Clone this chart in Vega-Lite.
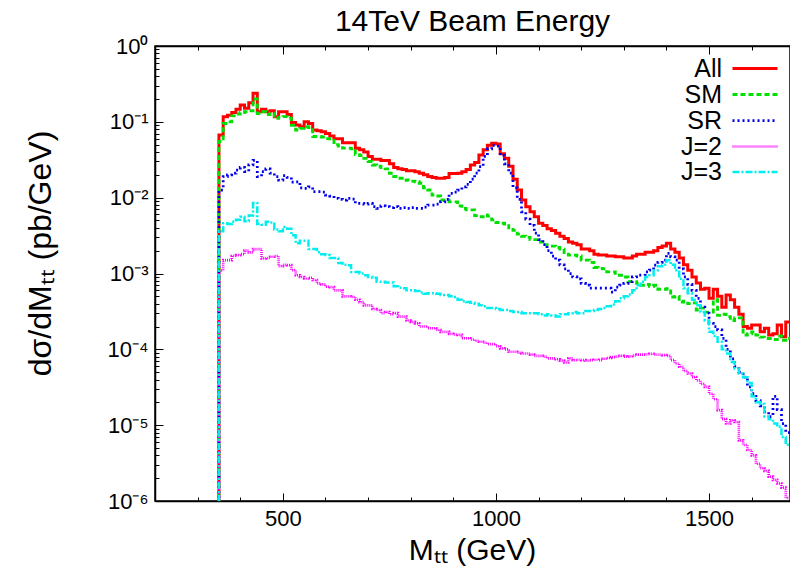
{
  "$schema": "https://vega.github.io/schema/vega-lite/v6.json",
  "width": 635,
  "height": 455,
  "autosize": {"type": "none"},
  "padding": {"left": 155, "top": 46, "right": 0, "bottom": 72},
  "background": "white",
  "config": {
    "view": {"stroke": "black", "strokeWidth": 1.5},
    "font": "Liberation Sans"
  },
  "title": {"text": "14TeV Beam Energy", "fontSize": 30, "fontWeight": "normal", "font": "Liberation Sans", "color": "black", "offset": -2, "anchor": "middle"},
  "data": {"values": [
    {"m":340,"All":5e-7,"SM":5e-7,"SR":5e-7,"J=2":5e-7,"J=3":5e-7},
    {"m":350,"All":0.067,"SM":0.055,"SR":0.0126,"J=2":0.0011,"J=3":0.0036},
    {"m":360,"All":0.117,"SM":0.095,"SR":0.019,"J=2":0.0015,"J=3":0.0046},
    {"m":370,"All":0.122,"SM":0.1,"SR":0.02,"J=2":0.0015,"J=3":0.0045},
    {"m":380,"All":0.133,"SM":0.12,"SR":0.021,"J=2":0.0017,"J=3":0.0048},
    {"m":390,"All":0.146,"SM":0.127,"SR":0.023,"J=2":0.00175,"J=3":0.0051},
    {"m":400,"All":0.167,"SM":0.133,"SR":0.025,"J=2":0.0018,"J=3":0.0056},
    {"m":410,"All":0.151,"SM":0.136,"SR":0.022,"J=2":0.002,"J=3":0.0049},
    {"m":420,"All":0.178,"SM":0.14,"SR":0.027,"J=2":0.0019,"J=3":0.0058},
    {"m":430,"All":0.238,"SM":0.2,"SR":0.031,"J=2":0.0021,"J=3":0.0085},
    {"m":440,"All":0.136,"SM":0.129,"SR":0.019,"J=2":0.0021,"J=3":0.0045},
    {"m":450,"All":0.146,"SM":0.136,"SR":0.022,"J=2":0.00158,"J=3":0.0044},
    {"m":460,"All":0.136,"SM":0.125,"SR":0.024,"J=2":0.0016,"J=3":0.0048},
    {"m":470,"All":0.14,"SM":0.13,"SR":0.021,"J=2":0.00166,"J=3":0.0047},
    {"m":480,"All":0.117,"SM":0.111,"SR":0.019,"J=2":0.0017,"J=3":0.0038},
    {"m":490,"All":0.136,"SM":0.115,"SR":0.017,"J=2":0.00125,"J=3":0.0036},
    {"m":500,"All":0.136,"SM":0.117,"SR":0.0195,"J=2":0.0013,"J=3":0.0041},
    {"m":510,"All":0.125,"SM":0.112,"SR":0.0185,"J=2":0.00129,"J=3":0.0039},
    {"m":520,"All":0.098,"SM":0.09,"SR":0.016,"J=2":0.00111,"J=3":0.0032},
    {"m":530,"All":0.091,"SM":0.078,"SR":0.0162,"J=2":0.00095,"J=3":0.0025},
    {"m":540,"All":0.086,"SM":0.082,"SR":0.0135,"J=2":0.0009,"J=3":0.0027},
    {"m":550,"All":0.1,"SM":0.086,"SR":0.0133,"J=2":0.00086,"J=3":0.0027},
    {"m":560,"All":0.095,"SM":0.084,"SR":0.0139,"J=2":0.00088,"J=3":0.0021},
    {"m":570,"All":0.078,"SM":0.064,"SR":0.012,"J=2":0.00082,"J=3":0.0021},
    {"m":580,"All":0.076,"SM":0.064,"SR":0.012,"J=2":0.00074,"J=3":0.0019},
    {"m":590,"All":0.074,"SM":0.063,"SR":0.0118,"J=2":0.00072,"J=3":0.0018},
    {"m":600,"All":0.07,"SM":0.06,"SR":0.0108,"J=2":0.00067,"J=3":0.00175},
    {"m":610,"All":0.065,"SM":0.057,"SR":0.0105,"J=2":0.00066,"J=3":0.0016},
    {"m":620,"All":0.06,"SM":0.05,"SR":0.0098,"J=2":0.0006,"J=3":0.0016},
    {"m":630,"All":0.06,"SM":0.048,"SR":0.0095,"J=2":0.0006,"J=3":0.00138},
    {"m":640,"All":0.053,"SM":0.045,"SR":0.0093,"J=2":0.0005,"J=3":0.0013},
    {"m":650,"All":0.053,"SM":0.045,"SR":0.0098,"J=2":0.0005,"J=3":0.00128},
    {"m":660,"All":0.053,"SM":0.044,"SR":0.0096,"J=2":0.00049,"J=3":0.00105},
    {"m":670,"All":0.045,"SM":0.037,"SR":0.0084,"J=2":0.00045,"J=3":0.00105},
    {"m":680,"All":0.043,"SM":0.036,"SR":0.0084,"J=2":0.00042,"J=3":0.001},
    {"m":690,"All":0.04,"SM":0.033,"SR":0.0082,"J=2":0.00038,"J=3":0.00095},
    {"m":700,"All":0.035,"SM":0.03,"SR":0.0084,"J=2":0.00038,"J=3":0.0009},
    {"m":710,"All":0.032,"SM":0.027,"SR":0.0076,"J=2":0.00034,"J=3":0.00088},
    {"m":720,"All":0.032,"SM":0.026,"SR":0.0072,"J=2":0.00033,"J=3":0.00078},
    {"m":730,"All":0.031,"SM":0.025,"SR":0.0078,"J=2":0.0003,"J=3":0.00078},
    {"m":740,"All":0.031,"SM":0.024,"SR":0.0076,"J=2":0.00031,"J=3":0.00076},
    {"m":750,"All":0.028,"SM":0.021,"SR":0.0074,"J=2":0.00029,"J=3":0.00076},
    {"m":760,"All":0.025,"SM":0.019,"SR":0.0076,"J=2":0.0003,"J=3":0.00068},
    {"m":770,"All":0.024,"SM":0.018,"SR":0.0072,"J=2":0.00027,"J=3":0.00065},
    {"m":780,"All":0.0235,"SM":0.017,"SR":0.0074,"J=2":0.00027,"J=3":0.00064},
    {"m":790,"All":0.0226,"SM":0.0171,"SR":0.0072,"J=2":0.00024,"J=3":0.0006},
    {"m":800,"All":0.0226,"SM":0.0165,"SR":0.0074,"J=2":0.00023,"J=3":0.0006},
    {"m":810,"All":0.022,"SM":0.0162,"SR":0.0072,"J=2":0.00022,"J=3":0.00059},
    {"m":820,"All":0.021,"SM":0.0155,"SR":0.0072,"J=2":0.0002,"J=3":0.00056},
    {"m":830,"All":0.02,"SM":0.0135,"SR":0.0075,"J=2":0.0002,"J=3":0.00054},
    {"m":840,"All":0.019,"SM":0.0126,"SR":0.008,"J=2":0.00019,"J=3":0.00055},
    {"m":850,"All":0.0185,"SM":0.0108,"SR":0.008,"J=2":0.00019,"J=3":0.00055},
    {"m":860,"All":0.018,"SM":0.0105,"SR":0.0082,"J=2":0.00018,"J=3":0.00054},
    {"m":870,"All":0.018,"SM":0.0093,"SR":0.0088,"J=2":0.00017,"J=3":0.00052},
    {"m":880,"All":0.0185,"SM":0.0093,"SR":0.0095,"J=2":0.00017,"J=3":0.00052},
    {"m":890,"All":0.0209,"SM":0.0088,"SR":0.0114,"J=2":0.00016,"J=3":0.0005},
    {"m":900,"All":0.0209,"SM":0.0088,"SR":0.0118,"J=2":0.000157,"J=3":0.00049},
    {"m":910,"All":0.021,"SM":0.0078,"SR":0.0126,"J=2":0.000155,"J=3":0.00045},
    {"m":920,"All":0.022,"SM":0.0072,"SR":0.0139,"J=2":0.00014,"J=3":0.00043},
    {"m":930,"All":0.0236,"SM":0.0069,"SR":0.015,"J=2":0.00014,"J=3":0.00042},
    {"m":940,"All":0.027,"SM":0.0069,"SR":0.0175,"J=2":0.000135,"J=3":0.00041},
    {"m":950,"All":0.029,"SM":0.0058,"SR":0.021,"J=2":0.00013,"J=3":0.0004},
    {"m":960,"All":0.0365,"SM":0.0056,"SR":0.0256,"J=2":0.000126,"J=3":0.00038},
    {"m":970,"All":0.043,"SM":0.0059,"SR":0.035,"J=2":0.000122,"J=3":0.00037},
    {"m":980,"All":0.049,"SM":0.0057,"SR":0.044,"J=2":0.000117,"J=3":0.00035},
    {"m":990,"All":0.052,"SM":0.0051,"SR":0.049,"J=2":0.000117,"J=3":0.00035},
    {"m":1000,"All":0.051,"SM":0.0047,"SR":0.048,"J=2":0.00011,"J=3":0.00034},
    {"m":1010,"All":0.038,"SM":0.0046,"SR":0.036,"J=2":0.000103,"J=3":0.00033},
    {"m":1020,"All":0.033,"SM":0.0045,"SR":0.028,"J=2":0.0001,"J=3":0.00033},
    {"m":1030,"All":0.026,"SM":0.0038,"SR":0.021,"J=2":0.000093,"J=3":0.00032},
    {"m":1040,"All":0.0175,"SM":0.0037,"SR":0.0135,"J=2":0.000093,"J=3":0.00031},
    {"m":1050,"All":0.0126,"SM":0.0033,"SR":0.0095,"J=2":0.00009,"J=3":0.00031},
    {"m":1060,"All":0.0093,"SM":0.0031,"SR":0.0065,"J=2":0.000088,"J=3":0.0003},
    {"m":1070,"All":0.0076,"SM":0.003,"SR":0.0052,"J=2":0.000088,"J=3":0.0003},
    {"m":1080,"All":0.0065,"SM":0.0028,"SR":0.0043,"J=2":0.000085,"J=3":0.0003},
    {"m":1090,"All":0.0056,"SM":0.0028,"SR":0.0034,"J=2":0.000082,"J=3":0.0003},
    {"m":1100,"All":0.0046,"SM":0.0026,"SR":0.0028,"J=2":0.000082,"J=3":0.00029},
    {"m":1110,"All":0.0043,"SM":0.0024,"SR":0.0024,"J=2":0.00008,"J=3":0.00028},
    {"m":1120,"All":0.0039,"SM":0.0023,"SR":0.002,"J=2":0.000076,"J=3":0.00029},
    {"m":1130,"All":0.0037,"SM":0.0023,"SR":0.0017,"J=2":0.000076,"J=3":0.00028},
    {"m":1140,"All":0.0034,"SM":0.0022,"SR":0.0015,"J=2":0.000074,"J=3":0.00027},
    {"m":1150,"All":0.0031,"SM":0.0021,"SR":0.0013,"J=2":0.000071,"J=3":0.00029},
    {"m":1160,"All":0.0029,"SM":0.0018,"SR":0.00115,"J=2":0.000067,"J=3":0.00029},
    {"m":1170,"All":0.0026,"SM":0.00175,"SR":0.001,"J=2":0.000076,"J=3":0.0003},
    {"m":1180,"All":0.0025,"SM":0.00175,"SR":0.0009,"J=2":0.000072,"J=3":0.00031},
    {"m":1190,"All":0.0024,"SM":0.0017,"SR":0.00085,"J=2":0.000073,"J=3":0.0003},
    {"m":1200,"All":0.0021,"SM":0.0015,"SR":0.00074,"J=2":0.000072,"J=3":0.0003},
    {"m":1210,"All":0.0021,"SM":0.0015,"SR":0.0007,"J=2":0.000071,"J=3":0.00032},
    {"m":1220,"All":0.002,"SM":0.0014,"SR":0.00064,"J=2":0.000072,"J=3":0.00032},
    {"m":1230,"All":0.0018,"SM":0.0012,"SR":0.00064,"J=2":0.000073,"J=3":0.00033},
    {"m":1240,"All":0.00175,"SM":0.00117,"SR":0.00064,"J=2":0.000072,"J=3":0.00034},
    {"m":1250,"All":0.00175,"SM":0.00115,"SR":0.00064,"J=2":0.000075,"J=3":0.00035},
    {"m":1260,"All":0.0017,"SM":0.00105,"SR":0.00064,"J=2":0.000077,"J=3":0.00037},
    {"m":1270,"All":0.0017,"SM":0.00105,"SR":0.00057,"J=2":0.000079,"J=3":0.00039},
    {"m":1280,"All":0.00166,"SM":0.00095,"SR":0.00066,"J=2":0.00008,"J=3":0.00043},
    {"m":1290,"All":0.00166,"SM":0.00095,"SR":0.0007,"J=2":0.000082,"J=3":0.00047},
    {"m":1300,"All":0.0016,"SM":0.0009,"SR":0.00074,"J=2":0.00008,"J=3":0.0005},
    {"m":1310,"All":0.0016,"SM":0.00078,"SR":0.00078,"J=2":0.000081,"J=3":0.00053},
    {"m":1320,"All":0.0017,"SM":0.00078,"SR":0.0009,"J=2":0.000083,"J=3":0.0006},
    {"m":1330,"All":0.0018,"SM":0.00074,"SR":0.00095,"J=2":0.000085,"J=3":0.0007},
    {"m":1340,"All":0.0018,"SM":0.0007,"SR":0.00095,"J=2":0.000085,"J=3":0.00078},
    {"m":1350,"All":0.0019,"SM":0.00072,"SR":0.00105,"J=2":0.000086,"J=3":0.0009},
    {"m":1360,"All":0.0019,"SM":0.00068,"SR":0.00111,"J=2":0.000087,"J=3":0.00095},
    {"m":1370,"All":0.002,"SM":0.0007,"SR":0.00129,"J=2":0.000085,"J=3":0.0011},
    {"m":1380,"All":0.0022,"SM":0.00062,"SR":0.0014,"J=2":0.000085,"J=3":0.00125},
    {"m":1390,"All":0.0023,"SM":0.00062,"SR":0.0015,"J=2":0.000084,"J=3":0.0013},
    {"m":1400,"All":0.0025,"SM":0.00063,"SR":0.00184,"J=2":0.000082,"J=3":0.0015},
    {"m":1410,"All":0.0021,"SM":0.00049,"SR":0.00166,"J=2":0.000072,"J=3":0.0013},
    {"m":1420,"All":0.0019,"SM":0.0005,"SR":0.0015,"J=2":0.000065,"J=3":0.0011},
    {"m":1430,"All":0.0016,"SM":0.00042,"SR":0.00115,"J=2":0.000059,"J=3":0.00085},
    {"m":1440,"All":0.0013,"SM":0.00043,"SR":0.0009,"J=2":0.000052,"J=3":0.00064},
    {"m":1450,"All":0.0011,"SM":0.0004,"SR":0.00072,"J=2":0.000048,"J=3":0.00055},
    {"m":1460,"All":0.0009,"SM":0.00041,"SR":0.0006,"J=2":0.000043,"J=3":0.00045},
    {"m":1470,"All":0.00075,"SM":0.00033,"SR":0.00047,"J=2":0.000039,"J=3":0.00038},
    {"m":1480,"All":0.00062,"SM":0.00035,"SR":0.00036,"J=2":0.000035,"J=3":0.00031},
    {"m":1490,"All":0.00064,"SM":0.00031,"SR":0.0003,"J=2":0.000032,"J=3":0.00024},
    {"m":1500,"All":0.00047,"SM":0.00031,"SR":0.00022,"J=2":0.000026,"J=3":0.00017},
    {"m":1510,"All":0.00062,"SM":0.00045,"SR":0.0002,"J=2":0.000022,"J=3":0.00015},
    {"m":1520,"All":0.0005,"SM":0.00028,"SR":0.00018,"J=2":0.0000158,"J=3":0.000126},
    {"m":1530,"All":0.00036,"SM":0.00029,"SR":0.000139,"J=2":0.000012,"J=3":0.0001},
    {"m":1540,"All":0.00052,"SM":0.00027,"SR":0.0001,"J=2":0.0000105,"J=3":0.000088},
    {"m":1550,"All":0.00045,"SM":0.00024,"SR":0.000075,"J=2":0.0000116,"J=3":0.000068},
    {"m":1560,"All":0.00036,"SM":0.00026,"SR":0.000059,"J=2":0.000011,"J=3":0.000056},
    {"m":1570,"All":0.00029,"SM":0.00026,"SR":0.00005,"J=2":0.0000063,"J=3":0.000048},
    {"m":1580,"All":0.0002,"SM":0.000154,"SR":0.000043,"J=2":0.0000055,"J=3":0.000043},
    {"m":1590,"All":0.00019,"SM":0.00016,"SR":0.000032,"J=2":0.0000047,"J=3":0.000036},
    {"m":1600,"All":0.00021,"SM":0.00017,"SR":0.000026,"J=2":0.000004,"J=3":0.000024},
    {"m":1610,"All":0.00021,"SM":0.000154,"SR":0.000021,"J=2":0.0000031,"J=3":0.00002},
    {"m":1620,"All":0.00017,"SM":0.000145,"SR":0.000018,"J=2":0.0000027,"J=3":0.000019},
    {"m":1630,"All":0.00019,"SM":0.000139,"SR":0.000015,"J=2":0.0000025,"J=3":0.000013},
    {"m":1640,"All":0.000155,"SM":0.000139,"SR":0.000013,"J=2":0.0000021,"J=3":0.000012},
    {"m":1650,"All":0.00016,"SM":0.000135,"SR":0.000024,"J=2":0.0000019,"J=3":0.0000105},
    {"m":1660,"All":0.00021,"SM":0.00015,"SR":0.000016,"J=2":0.0000017,"J=3":0.0000095},
    {"m":1670,"All":0.000146,"SM":0.000132,"SR":0.0000105,"J=2":0.0000015,"J=3":0.000007},
    {"m":1680,"All":0.00023,"SM":0.00014,"SR":0.000008,"J=2":0.0000011,"J=3":0.0000055},
    {"m":1690,"All":0.00023,"SM":0.00014,"SR":0.000008,"J=2":0.0000011,"J=3":0.0000055}
  ]},
  "transform": [{"fold": ["All", "SM", "SR", "J=2", "J=3"], "as": ["series", "value"]}],
  "resolve": {"axis": {"x": "independent"}},
  "layer": [
    {
      "mark": {"type": "line", "interpolate": "step-after", "clip": true},
      "encoding": {
        "x": {
          "field": "m", "type": "quantitative",
          "scale": {"domain": [200, 1690], "nice": false, "zero": false},
          "axis": {
            "orient": "bottom",
            "title": "Mₜₜ (GeV)",
            "titleFont": "Liberation Sans", "titleFontSize": 30, "titleFontWeight": "normal", "titleColor": "black",
            "titleX": 317, "titleY": 49, "titleBaseline": "middle", "titleAlign": "center",
            "values": [300, 400, 500, 600, 700, 800, 900, 1000, 1100, 1200, 1300, 1400, 1500, 1600],
            "labelExpr": "datum.value % 500 == 0 ? '' + datum.value : ''",
            "labelFont": "Liberation Sans", "labelFontSize": 22, "labelColor": "black",
            "labelOverlap": false, "labelFlush": false, "labelBaseline": "top",
            "tickSize": {"condition": {"test": "datum.value % 500 == 0", "value": -8}, "value": -4},
            "labelPadding": 15,
            "tickColor": "black", "tickWidth": 1,
            "domainColor": "black", "domainWidth": 1.5,
            "grid": false
          }
        },
        "y": {
          "field": "value", "type": "quantitative",
          "scale": {"type": "log", "domain": [0.000001, 1], "nice": false},
          "axis": {
            "title": "dσ/dMₜₜ (pb/GeV)",
            "titleFont": "Liberation Sans", "titleFontSize": 32, "titleFontWeight": "normal", "titleColor": "black",
            "titleX": -115, "titleY": 207, "titleBaseline": "middle", "titleAlign": "center", "titleAngle": 270,
            "values": [0.000001,0.000002,0.000003,0.000004,0.000005,0.000006,0.000007,0.000008,0.000009,
                       0.00001,0.00002,0.00003,0.00004,0.00005,0.00006,0.00007,0.00008,0.00009,
                       0.0001,0.0002,0.0003,0.0004,0.0005,0.0006,0.0007,0.0008,0.0009,
                       0.001,0.002,0.003,0.004,0.005,0.006,0.007,0.008,0.009,
                       0.01,0.02,0.03,0.04,0.05,0.06,0.07,0.08,0.09,
                       0.1,0.2,0.3,0.4,0.5,0.6,0.7,0.8,0.9,1],
            "labelExpr": "abs(log(datum.value)/LN10 - round(log(datum.value)/LN10)) < 0.001 ? (round(log(datum.value)/LN10) == 0 ? '10⁰' : '10⁻' + ['', '¹', '²', '³', '⁴', '⁵', '⁶'][-round(log(datum.value)/LN10)]) : ''",
            "labelFont": "Liberation Sans", "labelFontSize": 22, "labelColor": "black",
            "labelOverlap": false, "labelFlush": false,
            "tickSize": {"condition": {"test": "abs(log(datum.value)/LN10 - round(log(datum.value)/LN10)) < 0.001", "value": -8}, "value": -4},
            "labelPadding": 15,
            "tickColor": "black", "tickWidth": 1,
            "domainColor": "black", "domainWidth": 1.5,
            "grid": false
          }
        },
        "color": {
          "field": "series", "type": "nominal", "title": null,
          "scale": {"domain": ["All", "SM", "SR", "J=2", "J=3"], "range": ["#ff0000", "#00e000", "#0000ee", "#ff00ff", "#00eeee"]},
          "legend": {
            "orient": "none", "legendX": 577, "legendY": 9.5, "padding": 0,
            "labelAlign": "right", "labelOffset": -46,
            "labelFont": "Liberation Sans", "labelFontSize": 25, "labelColor": "black",
            "symbolType": "M-2,0H2", "symbolSize": 506, "symbolStrokeWidth": 2.5, "symbolOffset": 10,
            "rowPadding": 0
          }
        },
        "strokeDash": {
          "field": "series", "type": "nominal", "title": null,
          "scale": {"domain": ["All", "SM", "SR", "J=2", "J=3"], "range": [[1, 0], [5, 3], [2, 3], [1, 1], [7, 2, 2, 2]]},
          "legend": {
            "orient": "none", "legendX": 577, "legendY": 9.5, "padding": 0,
            "labelAlign": "right", "labelOffset": -46,
            "labelFont": "Liberation Sans", "labelFontSize": 25, "labelColor": "black",
            "symbolType": "M-2,0H2", "symbolSize": 506, "symbolStrokeWidth": 2.5, "symbolOffset": 10,
            "rowPadding": 0
          }
        },
        "strokeWidth": {
          "field": "series", "type": "nominal", "legend": null,
          "scale": {"domain": ["All", "SM", "SR", "J=2", "J=3"], "range": [3, 2.5, 2.5, 2.5, 2.5]}
        }
      }
    },
    {
      "mark": {"type": "rule", "strokeOpacity": 0},
      "encoding": {
        "x": {
          "field": "m", "type": "quantitative",
          "axis": {
            "orient": "top", "title": null,
            "values": [300, 400, 500, 600, 700, 800, 900, 1000, 1100, 1200, 1300, 1400, 1500, 1600],
            "labels": false,
            "tickSize": {"condition": {"test": "datum.value % 500 == 0", "value": -8}, "value": -4},
            "tickColor": "black", "tickWidth": 1,
            "domainColor": "black", "domainWidth": 1.5,
            "grid": false
          }
        }
      }
    }
  ]
}
